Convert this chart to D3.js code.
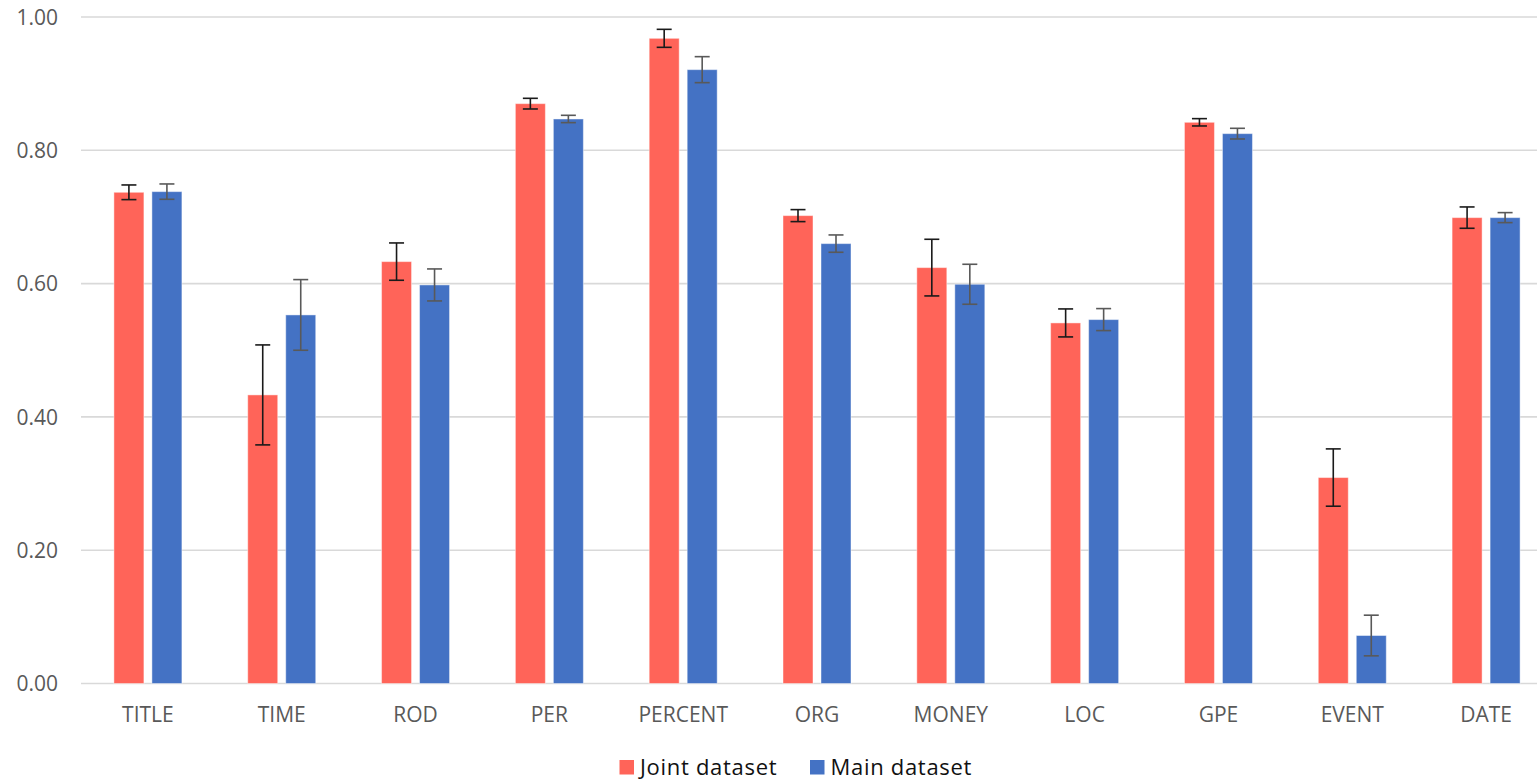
<!DOCTYPE html>
<html>
<head>
<meta charset="utf-8">
<script src="https://cdn.jsdelivr.net/npm/d3@7"></script>
<style>
  html, body { margin: 0; padding: 0; background: #fff; }
  svg { display: block; font-family: "Open Sans", "Liberation Sans", sans-serif; }
</style>
</head>
<body>
<svg id="chart" width="1537" height="781"></svg>
<script>
const categories = ["TITLE", "TIME", "ROD", "PER", "PERCENT", "ORG", "MONEY", "LOC", "GPE", "EVENT", "DATE"];
const seriesNames = ["Joint dataset", "Main dataset"];
const jointValues = [0.737, 0.433, 0.633, 0.870, 0.968, 0.702, 0.624, 0.541, 0.842, 0.309, 0.699];
const jointErrors = [0.011, 0.075, 0.028, 0.008, 0.0135, 0.009, 0.0425, 0.021, 0.0055, 0.043, 0.016];
const mainValues = [0.738, 0.553, 0.598, 0.847, 0.921, 0.660, 0.599, 0.546, 0.825, 0.072, 0.699];
const mainErrors = [0.0115, 0.053, 0.024, 0.0055, 0.0195, 0.013, 0.030, 0.0165, 0.008, 0.0305, 0.0075];
const yTicks = [0, 0.2, 0.4, 0.6, 0.8, 1.0];
const colors = ["#FF6459", "#4472C4"];
const errColors = ["#1a1a1a", "#595959"];

const svg = d3.select("#chart");
const plotLeft = 81, plotRight = 1553, plotTop = 17, plotBottom = 683.5;

const y = d3.scaleLinear().domain([0, 1]).range([plotBottom, plotTop]);
const x0 = d3.scaleBand().domain(categories).range([plotLeft, plotRight]).padding(0);
const groupW = 68;
const x1 = d3.scaleBand().domain(seriesNames).range([0, groupW]).paddingInner(8 / 38).paddingOuter(0);
const groupOffset = (x0.bandwidth() - groupW) / 2;

// gridlines
svg.append("g")
  .selectAll("line")
  .data(yTicks)
  .join("line")
  .attr("x1", plotLeft).attr("x2", 1537)
  .attr("y1", d => y(d)).attr("y2", d => y(d))
  .attr("stroke", "#D9D9D9").attr("stroke-width", 1.6);

// y axis labels
const yAxis = d3.axisLeft(y).tickValues(yTicks).tickFormat(d3.format(".2f")).tickSize(0).tickPadding(0);
const yg = svg.append("g").attr("transform", `translate(58,0)`).call(yAxis);
yg.select(".domain").remove();
yg.selectAll("text").attr("fill", "#595959").attr("font-size", 21)
  .attr("font-family", "\"Open Sans\", sans-serif").attr("dy", "0.35em");

// x axis labels
const xAxis = d3.axisBottom(x0).tickSize(0).tickPadding(0);
const xg = svg.append("g").attr("transform", `translate(0,${plotBottom})`).call(xAxis);
xg.select(".domain").remove();
xg.selectAll("text").attr("fill", "#595959").attr("font-size", 21)
  .attr("font-family", "\"Open Sans\", sans-serif").attr("dy", null).attr("y", 38.5);

const series = [
  { name: seriesNames[0], values: jointValues, errors: jointErrors },
  { name: seriesNames[1], values: mainValues, errors: mainErrors }
];

series.forEach((s, si) => {
  const data = categories.map((c, i) => ({ c, v: s.values[i], e: s.errors[i] }));
  const g = svg.append("g");
  g.selectAll("rect")
    .data(data)
    .join("rect")
    .attr("x", d => x0(d.c) + groupOffset + x1(s.name))
    .attr("width", x1.bandwidth())
    .attr("y", d => y(d.v))
    .attr("height", d => y(0) - y(d.v))
    .attr("fill", colors[si])
    .attr("stroke", "rgba(255,255,255,0.45)")
    .attr("stroke-width", 1);

  const cx = d => x0(d.c) + groupOffset + x1(s.name) + x1.bandwidth() / 2;
  const eg = g.append("g").attr("stroke", errColors[si]).attr("stroke-width", 1.6);
  eg.selectAll("line.v").data(data).join("line").attr("class", "v")
    .attr("x1", cx).attr("x2", cx)
    .attr("y1", d => y(d.v + d.e)).attr("y2", d => y(d.v - d.e));
  eg.selectAll("line.t").data(data).join("line").attr("class", "t")
    .attr("x1", d => cx(d) - 7.5).attr("x2", d => cx(d) + 7.5)
    .attr("y1", d => y(d.v + d.e)).attr("y2", d => y(d.v + d.e));
  eg.selectAll("line.b").data(data).join("line").attr("class", "b")
    .attr("x1", d => cx(d) - 7.5).attr("x2", d => cx(d) + 7.5)
    .attr("y1", d => y(d.v - d.e)).attr("y2", d => y(d.v - d.e));
});

// legend
const legendItems = [
  { name: seriesNames[0], color: colors[0], x: 619.5 },
  { name: seriesNames[1], color: colors[1], x: 810 }
];
const lg = svg.append("g");
legendItems.forEach(li => {
  lg.append("rect").attr("x", li.x).attr("y", 760).attr("width", 14.5).attr("height", 14.5).attr("fill", li.color);
  lg.append("text").attr("x", li.x + 20.5).attr("y", 774.5)
    .attr("font-size", 22).attr("letter-spacing", "0.7px").attr("fill", "#111").text(li.name);
});
</script>
</body>
</html>
